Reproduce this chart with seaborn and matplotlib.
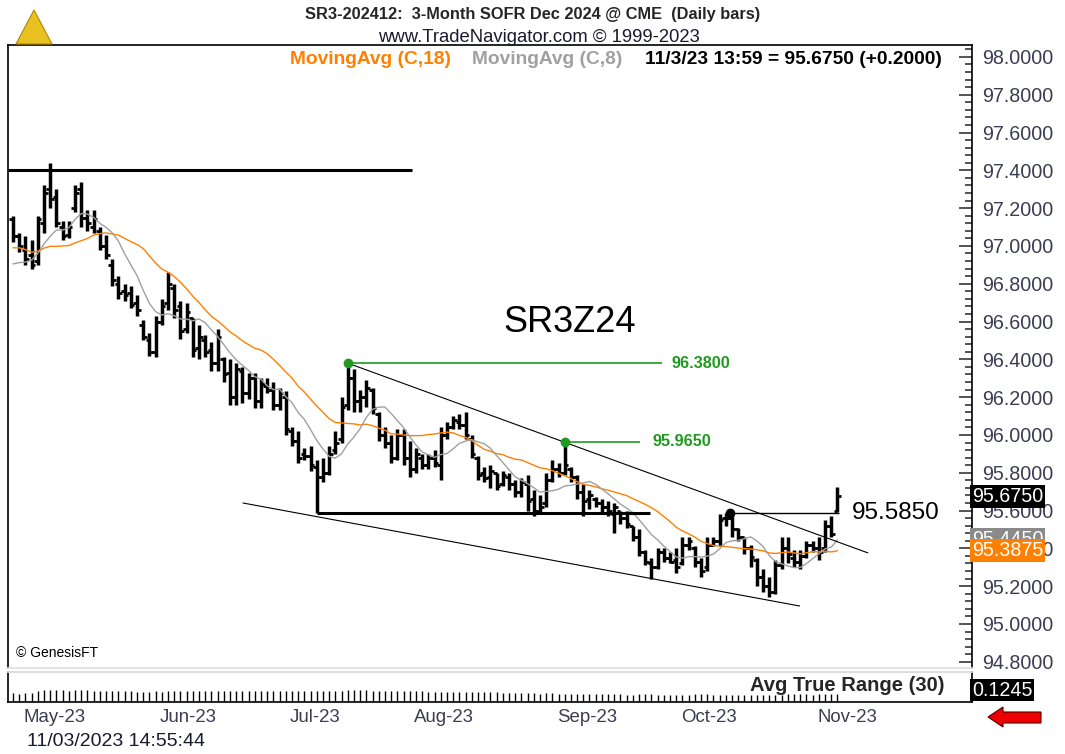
import numpy as np
import pandas as pd
import matplotlib
matplotlib.use("Agg")
import matplotlib.pyplot as plt
import matplotlib.transforms as mtransforms
from matplotlib.patches import Polygon
from matplotlib.ticker import MultipleLocator, FormatStrFormatter
import seaborn as sns

# Daily bars, SR3Z24, 26-Apr-2023 .. 03-Nov-2023
opens = [97.14, 97.05, 96.98, 96.95, 96.92, 97.12, 97.30, 97.26, 97.10, 97.06,
         97.20, 97.30, 97.15, 97.10, 97.08, 97.00, 96.90, 96.80, 96.76, 96.75,
         96.70, 96.58, 96.50, 96.44, 96.60, 96.70, 96.78, 96.68, 96.56, 96.62,
         96.46, 96.50, 96.45, 96.38, 96.40, 96.33, 96.20, 96.34, 96.22, 96.30,
         96.18, 96.26, 96.24, 96.16, 96.20, 96.02, 95.97, 95.90, 95.89, 95.83,
         95.78, 95.80, 95.92, 95.98, 96.16, 96.30, 96.18, 96.20, 96.24, 96.11,
         96.00, 95.96, 95.88, 96.00, 95.88, 95.82, 95.88, 95.84, 95.88, 95.84,
         96.00, 96.04, 96.07, 96.05, 95.98, 95.88, 95.80, 95.78, 95.80, 95.74,
         95.78, 95.74, 95.70, 95.74, 95.66, 95.60, 95.64, 95.76, 95.82, 95.80,
         95.82, 95.78, 95.70, 95.66, 95.66, 95.64, 95.62, 95.58, 95.60, 95.56,
         95.52, 95.46, 95.38, 95.32, 95.30, 95.38, 95.35, 95.34, 95.32, 95.42,
         95.40, 95.33, 95.30, 95.42, 95.44, 95.56, 95.56, 95.50, 95.46, 95.40,
         95.34, 95.25, 95.20, 95.17, 95.31, 95.40, 95.35, 95.33, 95.36, 95.42,
         95.40, 95.40, 95.52, 95.60]
highs = [97.16, 97.07, 97.05, 97.03, 97.16, 97.32, 97.44, 97.30, 97.13, 97.13,
         97.32, 97.34, 97.19, 97.19, 97.10, 97.06, 96.93, 96.84, 96.80, 96.79,
         96.74, 96.61, 96.54, 96.63, 96.72, 96.86, 96.80, 96.71, 96.70, 96.62,
         96.58, 96.53, 96.49, 96.56, 96.41, 96.40, 96.38, 96.36, 96.33, 96.33,
         96.30, 96.30, 96.28, 96.25, 96.23, 96.04, 96.02, 95.93, 95.94, 95.87,
         95.88, 95.94, 96.02, 96.20, 96.38, 96.35, 96.24, 96.29, 96.25, 96.12,
         96.04, 96.00, 96.03, 96.03, 95.97, 95.93, 95.90, 95.90, 95.92, 96.04,
         96.07, 96.10, 96.11, 96.12, 96.00, 95.89, 95.83, 95.84, 95.80, 95.81,
         95.80, 95.76, 95.77, 95.79, 95.71, 95.68, 95.80, 95.87, 95.85, 95.965,
         95.83, 95.79, 95.74, 95.71, 95.67, 95.66, 95.65, 95.64, 95.60, 95.60,
         95.52, 95.50, 95.39, 95.35, 95.40, 95.40, 95.38, 95.40, 95.46, 95.46,
         95.41, 95.35, 95.46, 95.46, 95.58, 95.585, 95.57, 95.51, 95.46, 95.42,
         95.35, 95.29, 95.25, 95.34, 95.46, 95.46, 95.39, 95.39, 95.44, 95.44,
         95.46, 95.55, 95.57, 95.725]
lows = [97.02, 96.97, 96.90, 96.88, 96.90, 97.07, 97.20, 97.10, 97.03, 97.04,
        97.18, 97.10, 97.08, 97.07, 96.98, 96.93, 96.79, 96.72, 96.71, 96.67,
        96.63, 96.50, 96.42, 96.41, 96.58, 96.66, 96.62, 96.51, 96.54, 96.41,
        96.40, 96.41, 96.34, 96.34, 96.28, 96.16, 96.16, 96.17, 96.19, 96.14,
        96.14, 96.22, 96.13, 96.13, 96.00, 95.94, 95.85, 95.87, 95.81, 95.585,
        95.75, 95.79, 95.90, 95.96, 96.13, 96.12, 96.12, 96.15, 96.11, 95.97,
        95.93, 95.85, 95.87, 95.84, 95.78, 95.80, 95.82, 95.82, 95.83, 95.76,
        95.98, 96.03, 96.03, 95.98, 95.88, 95.76, 95.75, 95.72, 95.71, 95.73,
        95.71, 95.67, 95.67, 95.60, 95.57, 95.58, 95.62, 95.75, 95.78, 95.79,
        95.75, 95.66, 95.57, 95.61, 95.62, 95.59, 95.57, 95.48, 95.53, 95.51,
        95.44, 95.36, 95.31, 95.24, 95.29, 95.33, 95.32, 95.27, 95.31, 95.39,
        95.30, 95.25, 95.28, 95.41, 95.41, 95.52, 95.46, 95.44, 95.37, 95.30,
        95.20, 95.17, 95.14, 95.16, 95.29, 95.32, 95.30, 95.29, 95.35, 95.38,
        95.34, 95.38, 95.46, 95.59]
closes = [97.05, 97.00, 96.93, 96.90, 97.14, 97.28, 97.25, 97.12, 97.05, 97.10,
          97.28, 97.15, 97.12, 97.14, 97.00, 96.95, 96.82, 96.75, 96.74, 96.69,
          96.66, 96.52, 96.44, 96.60, 96.68, 96.80, 96.66, 96.55, 96.65, 96.45,
          96.52, 96.44, 96.38, 96.52, 96.32, 96.20, 96.35, 96.22, 96.30, 96.18,
          96.27, 96.24, 96.16, 96.22, 96.03, 95.97, 95.88, 95.89, 95.84, 95.78,
          95.80, 95.90, 95.96, 96.15, 96.30, 96.18, 96.20, 96.25, 96.14, 96.00,
          95.96, 95.88, 96.00, 95.88, 95.82, 95.90, 95.84, 95.88, 95.85, 96.00,
          96.04, 96.08, 96.05, 96.00, 95.90, 95.79, 95.77, 95.81, 95.73, 95.79,
          95.74, 95.70, 95.75, 95.65, 95.60, 95.62, 95.76, 95.82, 95.80, 95.84,
          95.78, 95.70, 95.65, 95.68, 95.64, 95.62, 95.60, 95.62, 95.56, 95.53,
          95.46, 95.38, 95.33, 95.30, 95.38, 95.35, 95.33, 95.30, 95.42, 95.44,
          95.33, 95.28, 95.42, 95.44, 95.55, 95.56, 95.50, 95.46, 95.40, 95.355,
          95.25, 95.20, 95.17, 95.31, 95.40, 95.37, 95.33, 95.36, 95.42, 95.40,
          95.38, 95.52, 95.475, 95.675]
# closes before the first visible bar (only feed the moving averages)
pre_closes = [97.00, 97.10, 97.15, 97.05, 96.98, 97.08, 97.12, 97.02, 97.06, 97.02,
              96.95, 96.90, 96.82, 96.86, 96.88, 96.92, 96.86]

month_labels = ["May-23", "Jun-23", "Jul-23", "Aug-23", "Sep-23", "Oct-23", "Nov-23"]
month_first_bar = [3, 25, 46, 66, 89, 109, 131]

# indicators
idx = np.arange(len(closes))
all_close = pd.Series(pre_closes + closes)
ma18 = all_close.rolling(18).mean().iloc[len(pre_closes):].to_numpy()
ma8 = all_close.rolling(8).mean().iloc[len(pre_closes):].to_numpy()

df = pd.DataFrame({"o": opens, "h": highs, "l": lows, "c": closes})
prev_c = df["c"].shift(1).fillna(df["o"])
tr = pd.concat([df["h"] - df["l"], (df["h"] - prev_c).abs(), (df["l"] - prev_c).abs()], axis=1).max(axis=1)
atr = tr.rolling(30, min_periods=1).mean()

sns.set_theme(style="white")
plt.rcParams["font.family"] = ["Liberation Sans", "DejaVu Sans"]

W, H = 1065, 754
fig = plt.figure(figsize=(W / 100, H / 100), dpi=100)
fig.patch.set_facecolor("white")


def fx(px):
    return px / W


def fy(py):
    return 1 - py / H


ax = fig.add_axes([fx(8), fy(668), fx(972) - fx(8), fy(45) - fy(668)])
ax.set_facecolor("white")

# OHLC bars
ax.vlines(idx, lows, highs, color="black", lw=2.5, zorder=2)
ax.hlines(opens, idx - 0.6, idx, color="black", lw=2.0, zorder=2)
ax.hlines(closes, idx, idx + 0.6, color="black", lw=2.0, zorder=2)

# moving averages
sns.lineplot(x=idx, y=ma18, ax=ax, color="#ff8000", lw=1.0, legend=False, zorder=3)
sns.lineplot(x=idx, y=ma8, ax=ax, color="#a0a0a0", lw=1.0, legend=False, zorder=3)

# support / resistance lines
ax.hlines(97.40, -0.8, 64.4, color="black", lw=2.2, zorder=4)
ax.hlines(95.585, 49, 102.7, color="black", lw=2.2, zorder=4)
ax.plot([54, 137.9], [96.38, 95.376], color="black", lw=0.8, zorder=4)
ax.plot([37.1, 126.9], [95.64, 95.095], color="black", lw=0.8, zorder=4)

# swing highs
green = "#1f9a1f"
ax.hlines(96.38, 54, 104.7, color=green, lw=1.2, zorder=4)
ax.plot(54, 96.38, "o", color=green, ms=6, zorder=5)
ax.text(106.3, 96.38, "96.3800", color=green, fontsize=11.7, fontweight="bold", va="center")
ax.hlines(95.965, 89, 101.1, color=green, lw=1.2, zorder=4)
ax.plot(89, 95.965, "o", color=green, ms=6, zorder=5)
ax.text(103.2, 95.965, "95.9650", color=green, fontsize=11.7, fontweight="bold", va="center")
ax.hlines(95.585, 115.6, 133.2, color="black", lw=1.0, zorder=4)
ax.plot(115.6, 95.585, "o", color="black", ms=6, zorder=5)
ax.text(135.3, 95.585, "95.5850", color="black", fontsize=17.5, va="center")

ax.text(89.8, 96.593, "SR3Z24", fontsize=26, ha="center", va="center", color="black")
ax.text(0.5, 94.81, "© GenesisFT", fontsize=10, color="black", va="bottom")

ax.set_xlim(-0.8, 154.7)
ax.set_ylim(94.767, 98.063)
ax.set_xticks([])
ax.yaxis.tick_right()
ax.yaxis.set_major_locator(MultipleLocator(0.2))
ax.yaxis.set_minor_locator(MultipleLocator(0.04))
ax.yaxis.set_major_formatter(FormatStrFormatter("%.4f"))
ax.tick_params(axis="y", which="major", direction="in", length=9.5, width=1.1,
               labelsize=14.2, labelcolor="#3c3c52", pad=7, right=True, left=False)
ax.tick_params(axis="y", which="minor", direction="in", length=5, width=1.1, right=True, left=False)
for side in ["left", "top", "right"]:
    ax.spines[side].set_color("black")
    ax.spines[side].set_linewidth(1.2)
ax.spines["bottom"].set_color("#e0e0e0")

# value boxes on the price scale
ytr = ax.get_yaxis_transform()
box_kw = dict(transform=ytr, fontsize=14.2, color="white", va="center", ha="left", clip_on=False)
ax.text(1.0, 95.675, "95.6750", zorder=10,
        bbox=dict(boxstyle="square,pad=0.1", fc="black", ec="none"), **box_kw)
ax.text(1.0, 95.445, "95.4450", zorder=10,
        bbox=dict(boxstyle="square,pad=0.1", fc="#8a8a8a", ec="none"), **box_kw)
ax.text(1.0, 95.3875, "95.3875", zorder=11,
        bbox=dict(boxstyle="square,pad=0.1", fc="#ff8000", ec="none"), **box_kw)

# ATR strip
atr_ax = fig.add_axes([fx(8), fy(702), fx(972) - fx(8), fy(672) - fy(702)])
atr_ax.vlines(idx, 0, atr.to_numpy(), color="black", lw=1.0)
atr_ax.set_xlim(-0.8, 154.7)
atr_ax.set_ylim(0, atr.max() * 2.4)
atr_ax.set_xticks([])
atr_ax.set_yticks([])
for side in ["left", "bottom", "right"]:
    atr_ax.spines[side].set_color("black")
    atr_ax.spines[side].set_linewidth(1.2)
atr_ax.spines["top"].set_color("#d8d8d8")
atr_ax.text(0.971, 0.55, "Avg True Range (30)", transform=atr_ax.transAxes, fontsize=14.5,
            fontweight="bold", ha="right", va="center")
atr_ax.text(1.0, 0.4, "0.1245", transform=atr_ax.transAxes, fontsize=14.2, color="white",
            ha="left", va="center", clip_on=False,
            bbox=dict(boxstyle="square,pad=0.1", fc="black", ec="none"))

# month labels under the strip
mtr = mtransforms.blended_transform_factory(atr_ax.transData, fig.transFigure)
for lab, first in zip(month_labels, month_first_bar):
    atr_ax.text(first - 1.3, fy(717), lab, transform=mtr, fontsize=13.4, color="#3c3c52",
                ha="left", va="center", clip_on=False)

# header texts
fig.text(fx(533), fy(14), "SR3-202412:  3-Month SOFR Dec 2024 @ CME  (Daily bars)",
         fontsize=11.8, fontweight="bold", ha="center", va="center")
fig.text(fx(539), fy(37), "www.TradeNavigator.com © 1999-2023", fontsize=13.3,
         ha="center", va="center", color="#1a1a2e")
fig.text(fx(290), fy(59), "MovingAvg (C,18)", fontsize=13.8, fontweight="bold",
         color="#ff8000", ha="left", va="center")
fig.text(fx(472), fy(59), "MovingAvg (C,8)", fontsize=13.8, fontweight="bold",
         color="#a0a0a0", ha="left", va="center")
fig.text(fx(942), fy(59), "11/3/23 13:59 = 95.6750 (+0.2000)", fontsize=13.8,
         fontweight="bold", color="black", ha="right", va="center")
fig.text(fx(27), fy(741), "11/03/2023 14:55:44", fontsize=14, color="#1a1a2e",
         ha="left", va="center")

# red arrow at the bottom right
arrow_px = [(988, 717), (1003, 707), (1003, 712), (1041, 712), (1041, 723), (1003, 723), (1003, 727)]
fig.add_artist(Polygon([(fx(x), fy(y)) for x, y in arrow_px], closed=True,
                       transform=fig.transFigure, fc="#ee0000", ec="#550000", lw=0.8))

# small gold emblem in the corner
emblem_px = [(16, 44), (34, 10), (52, 44)]
fig.add_artist(Polygon([(fx(x), fy(y)) for x, y in emblem_px], closed=True,
                       transform=fig.transFigure, fc="#e8c020", ec="#b08800", lw=0.8))

fig.savefig("out.png", dpi=100, facecolor="white")
